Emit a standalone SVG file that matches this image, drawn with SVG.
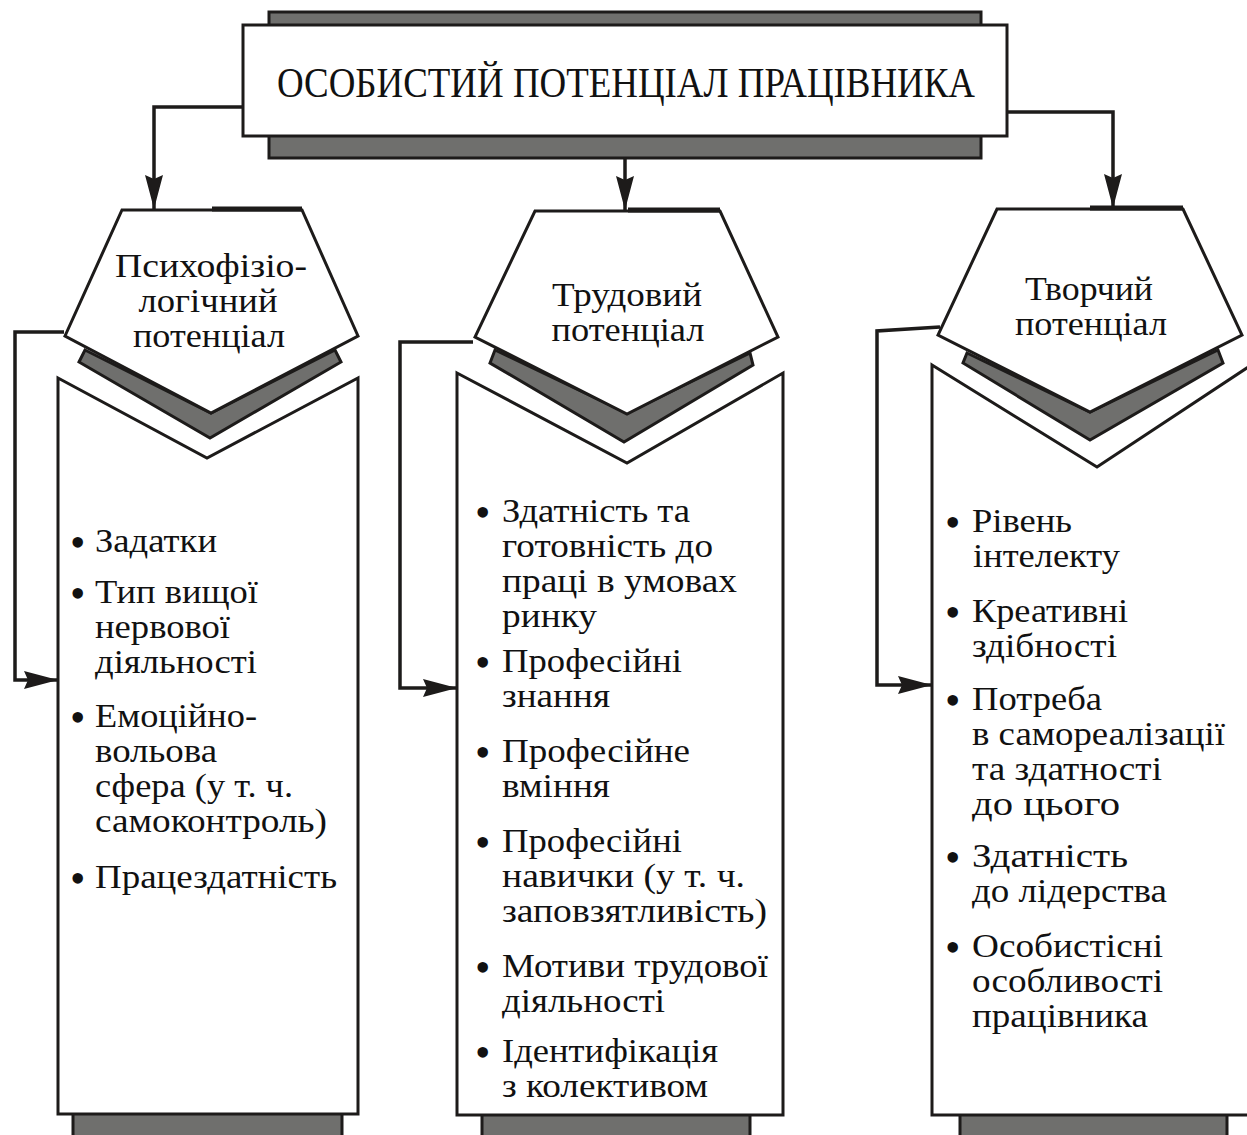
<svg xmlns="http://www.w3.org/2000/svg" width="1247" height="1135" viewBox="0 0 1247 1135">
  <style>
    .box{fill:#fff;stroke:#1d1b1a;stroke-width:3;stroke-linejoin:miter}
    .band{fill:#6f6f6d;stroke:#1d1b1a;stroke-width:3}
    .wire{fill:none;stroke:#1d1b1a;stroke-width:3.5}
    .edge{fill:none;stroke:#1d1b1a;stroke-width:5}
    text{font-family:"Liberation Serif","Times New Roman",serif;fill:#111}
    .h{font-size:42px}
    .t{font-size:34px}
    .c{font-size:34px;text-anchor:middle}
    .b{font-size:44px}
  </style>
  <defs>
    <marker id="arrow" markerUnits="userSpaceOnUse" viewBox="0 0 34 18" refX="34" refY="9" markerWidth="34" markerHeight="18" orient="auto">
      <path d="M0,0 L34,9 L0,18 L4,9 z" fill="#1d1b1a"/>
    </marker>
  </defs>

  <rect width="1247" height="1135" fill="#fff"/>

  <!-- top node -->
  <g id="node-top">
    <rect class="band" x="269" y="12" width="712" height="146"/>
    <rect class="box" x="243" y="25" width="764" height="111"/>
    <text class="h" x="626" y="97" text-anchor="middle" textLength="698" lengthAdjust="spacingAndGlyphs">ОСОБИСТИЙ ПОТЕНЦІАЛ ПРАЦІВНИКА</text>
  </g>

  <!-- connectors -->
  <g id="connectors">
    <polyline class="wire" points="243,107 154,107 154,209" marker-end="url(#arrow)"/>
    <line class="wire" x1="625" y1="158" x2="625" y2="210" marker-end="url(#arrow)"/>
    <polyline class="wire" points="1007,112 1113,112 1113,208" marker-end="url(#arrow)"/>
    <polyline class="wire" points="64,332 15,332 15,680 58,680" marker-end="url(#arrow)"/>
    <polyline class="wire" points="473,342 400,342 400,688 457,688" marker-end="url(#arrow)"/>
    <polyline class="wire" points="940,327 877,331 877,685 932,685" marker-end="url(#arrow)"/>
  </g>

  <!-- psychophysiological potential -->
  <g id="node-psycho">
    <polygon class="band" points="85,350 211,413 335,350 341,362 210,438 79,362"/>
    <polygon class="box" points="122,210 302,210 358,336 211,413 65,336"/>
    <line class="edge" x1="212" y1="209" x2="302" y2="209"/>
    <text class="c" x="211" y="277" textLength="192" lengthAdjust="spacingAndGlyphs">Психофізіо-</text>
    <text class="c" x="208" y="312" textLength="139" lengthAdjust="spacingAndGlyphs">логічний</text>
    <text class="c" x="209" y="347" textLength="152" lengthAdjust="spacingAndGlyphs">потенціал</text>
  </g>
  <g id="list-psycho">
    <rect class="band" x="73" y="1100" width="269" height="45"/>
    <polygon class="box" points="58,378 207,458 358,378 358,1114 58,1114"/>
    <g class="b">
      <text x="70" y="557">•</text>
      <text x="70" y="608">•</text>
      <text x="70" y="732">•</text>
      <text x="70" y="893">•</text>
    </g>
    <g class="t">
      <text x="95" y="552" textLength="122" lengthAdjust="spacingAndGlyphs">Задатки</text>
      <text x="95" y="603" textLength="163" lengthAdjust="spacingAndGlyphs">Тип вищої</text>
      <text x="95" y="638" textLength="135" lengthAdjust="spacingAndGlyphs">нервової</text>
      <text x="95" y="673" textLength="162" lengthAdjust="spacingAndGlyphs">діяльності</text>
      <text x="95" y="727" textLength="162" lengthAdjust="spacingAndGlyphs">Емоційно-</text>
      <text x="95" y="762" textLength="122" lengthAdjust="spacingAndGlyphs">вольова</text>
      <text x="95" y="797" textLength="198" lengthAdjust="spacingAndGlyphs">сфера (у т. ч.</text>
      <text x="95" y="832" textLength="232" lengthAdjust="spacingAndGlyphs">самоконтроль)</text>
      <text x="95" y="888" textLength="242" lengthAdjust="spacingAndGlyphs">Працездатність</text>
    </g>
  </g>

  <!-- labour potential -->
  <g id="node-labour">
    <polygon class="band" points="495,350 627,413 750,353 753,365 624,442 490,363"/>
    <polygon class="box" points="535,211 720,211 778,337 627,414 475,337"/>
    <line class="edge" x1="628" y1="210" x2="720" y2="210"/>
    <text class="c" x="627" y="306" textLength="150" lengthAdjust="spacingAndGlyphs">Трудовий</text>
    <text class="c" x="628" y="341" textLength="153" lengthAdjust="spacingAndGlyphs">потенціал</text>
  </g>
  <g id="list-labour">
    <rect class="band" x="482" y="1100" width="268" height="45"/>
    <polygon class="box" points="457,373 627,463 783,373 783,1115 457,1115"/>
    <g class="b">
      <text x="475" y="527">•</text>
      <text x="475" y="677">•</text>
      <text x="475" y="767">•</text>
      <text x="475" y="857">•</text>
      <text x="475" y="982">•</text>
      <text x="475" y="1067">•</text>
    </g>
    <g class="t">
      <text x="502" y="522" textLength="188" lengthAdjust="spacingAndGlyphs">Здатність та</text>
      <text x="502" y="557" textLength="211" lengthAdjust="spacingAndGlyphs">готовність до</text>
      <text x="502" y="592" textLength="235" lengthAdjust="spacingAndGlyphs">праці в умовах</text>
      <text x="502" y="627" textLength="95" lengthAdjust="spacingAndGlyphs">ринку</text>
      <text x="502" y="672" textLength="180" lengthAdjust="spacingAndGlyphs">Професійні</text>
      <text x="502" y="707" textLength="108" lengthAdjust="spacingAndGlyphs">знання</text>
      <text x="502" y="762" textLength="188" lengthAdjust="spacingAndGlyphs">Професійне</text>
      <text x="502" y="797" textLength="108" lengthAdjust="spacingAndGlyphs">вміння</text>
      <text x="502" y="852" textLength="180" lengthAdjust="spacingAndGlyphs">Професійні</text>
      <text x="502" y="887" textLength="243" lengthAdjust="spacingAndGlyphs">навички (у т. ч.</text>
      <text x="502" y="922" textLength="265" lengthAdjust="spacingAndGlyphs">заповзятливість)</text>
      <text x="502" y="977" textLength="266" lengthAdjust="spacingAndGlyphs">Мотиви трудової</text>
      <text x="502" y="1012" textLength="163" lengthAdjust="spacingAndGlyphs">діяльності</text>
      <text x="502" y="1062" textLength="216" lengthAdjust="spacingAndGlyphs">Ідентифікація</text>
      <text x="502" y="1097" textLength="206" lengthAdjust="spacingAndGlyphs">з колективом</text>
    </g>
  </g>

  <!-- creative potential -->
  <g id="node-creative">
    <polygon class="band" points="967,353 1090,412 1218,350 1223,363 1090,440 963,363"/>
    <polygon class="box" points="997,209 1183,209 1242,335 1090,412 938,335"/>
    <line class="edge" x1="1090" y1="208" x2="1183" y2="208"/>
    <text class="c" x="1089" y="300" textLength="128" lengthAdjust="spacingAndGlyphs">Творчий</text>
    <text class="c" x="1091" y="335" textLength="152" lengthAdjust="spacingAndGlyphs">потенціал</text>
  </g>
  <g id="list-creative">
    <rect class="band" x="960" y="1100" width="267" height="45"/>
    <polygon class="box" points="932,365 1097,467 1262,358 1262,1115 932,1115"/>
    <g class="b">
      <text x="945" y="537">•</text>
      <text x="945" y="627">•</text>
      <text x="945" y="715">•</text>
      <text x="945" y="872">•</text>
      <text x="945" y="962">•</text>
    </g>
    <g class="t">
      <text x="972" y="532" textLength="100" lengthAdjust="spacingAndGlyphs">Рівень</text>
      <text x="973" y="567" textLength="147" lengthAdjust="spacingAndGlyphs">інтелекту</text>
      <text x="972" y="622" textLength="156" lengthAdjust="spacingAndGlyphs">Креативні</text>
      <text x="972" y="657" textLength="145" lengthAdjust="spacingAndGlyphs">здібності</text>
      <text x="972" y="710" textLength="130" lengthAdjust="spacingAndGlyphs">Потреба</text>
      <text x="972" y="745" textLength="253" lengthAdjust="spacingAndGlyphs">в самореалізації</text>
      <text x="972" y="780" textLength="190" lengthAdjust="spacingAndGlyphs">та здатності</text>
      <text x="972" y="815" textLength="148" lengthAdjust="spacingAndGlyphs">до цього</text>
      <text x="972" y="867" textLength="156" lengthAdjust="spacingAndGlyphs">Здатність</text>
      <text x="972" y="902" textLength="195" lengthAdjust="spacingAndGlyphs">до лідерства</text>
      <text x="972" y="957" textLength="191" lengthAdjust="spacingAndGlyphs">Особистісні</text>
      <text x="972" y="992" textLength="191" lengthAdjust="spacingAndGlyphs">особливості</text>
      <text x="972" y="1027" textLength="176" lengthAdjust="spacingAndGlyphs">працівника</text>
    </g>
  </g>
</svg>
